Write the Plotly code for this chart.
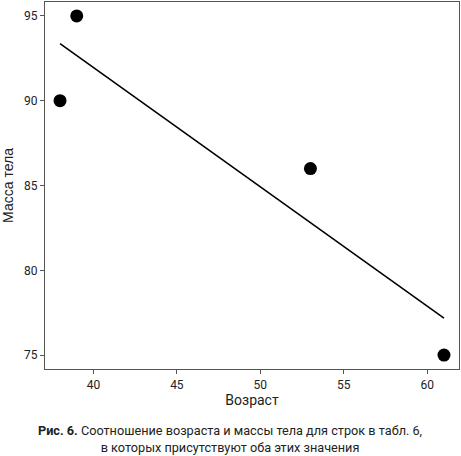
import plotly.graph_objs as go

# точки из табл. 6 (возраст, масса тела)
age = [38, 39, 53, 61]
mass = [90, 95, 86, 75]

# линия регрессии, концы
line_age = [38, 61]
line_mass = [93.36, 77.18]

x_ticks = [40, 45, 50, 55, 60]
y_ticks = [75, 80, 85, 90, 95]

caption = ("<b>Рис. 6.</b> Соотношение возраста и массы тела для строк в табл. 6,<br>"
           "в которых присутствуют оба этих значения")

fig = go.Figure()
fig.add_trace(go.Scatter(x=line_age, y=line_mass, mode="lines",
                         line=dict(color="black", width=1.6), showlegend=False))
fig.add_trace(go.Scatter(x=age, y=mass, mode="markers",
                         marker=dict(color="black", size=13), showlegend=False))

axis_common = dict(showgrid=False, zeroline=False, showline=True, mirror=True,
                   linecolor="#555555", linewidth=1.3, ticks="outside",
                   ticklen=4, tickcolor="#555555",
                   tickfont=dict(family="Roboto", size=12, color="#222222"))

fig.update_layout(
    width=461, height=456,
    margin=dict(l=45, r=2, t=2, b=87),
    plot_bgcolor="white", paper_bgcolor="white",
    xaxis=dict(range=[37.1, 61.9], tickvals=x_ticks,
               title=dict(text="Возраст", font=dict(family="Roboto", size=14, color="#222222"),
                          standoff=3),
               **axis_common),
    yaxis=dict(range=[74.18, 95.82], tickvals=y_ticks,
               title=dict(text="Масса тела", font=dict(family="Liberation Sans", size=14, color="#222222"),
                          standoff=8),
               **axis_common),
    annotations=[dict(text=caption, xref="paper", yref="paper", x=0.447, y=-0.141,
                      xanchor="center", yanchor="top", showarrow=False, align="center",
                      font=dict(family="Roboto", size=12.7, color="#222222"))],
)

# убираем отступ body, чтобы картинка легла ровно в окно
fig.write_html("out.html", config={"displayModeBar": False},
               post_script="document.body.style.margin='0';")
